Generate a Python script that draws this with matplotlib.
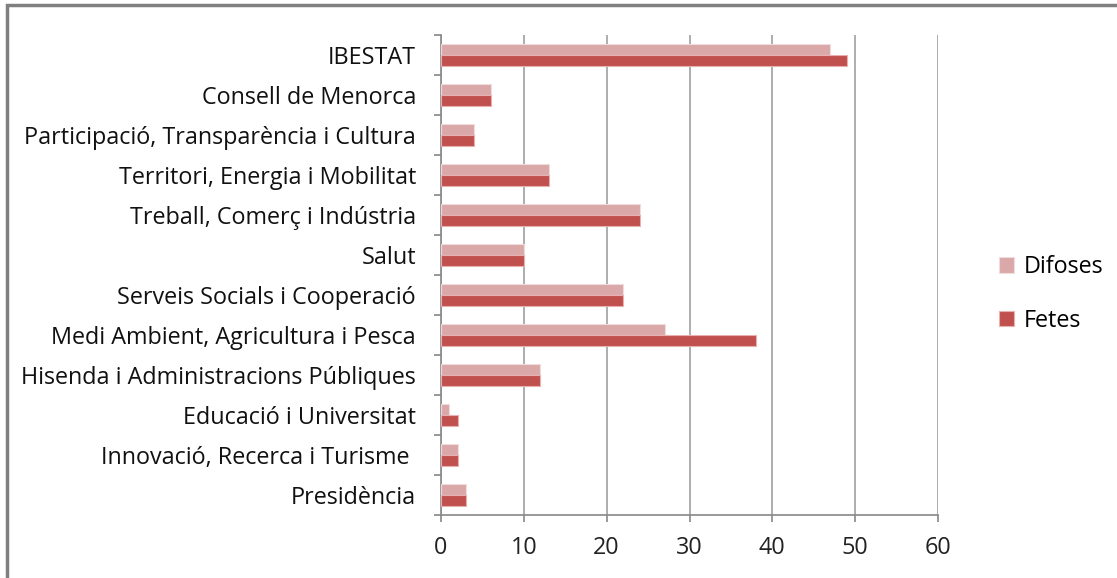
import matplotlib
matplotlib.use("Agg")
import matplotlib.pyplot as plt
from matplotlib.patches import Rectangle
import numpy as np

categories = ["IBESTAT", "Consell de Menorca", "Participació, Transparència i Cultura",
              "Territori, Energia i Mobilitat", "Treball, Comerç i Indústria", "Salut",
              "Serveis Socials i Cooperació", "Medi Ambient, Agricultura i Pesca",
              "Hisenda i Administracions Públiques", "Educació i Universitat",
              "Innovació, Recerca i Turisme ", "Presidència"]
difoses = [47, 6, 4, 13, 24, 10, 22, 27, 12, 1, 2, 3]
fetes = [49, 6, 4, 13, 24, 10, 22, 38, 12, 2, 2, 3]
xticks = [0, 10, 20, 30, 40, 50, 60]

plt.rcParams['font.family'] = ['Open Sans', 'DejaVu Sans']
FS = 16.8

fig = plt.figure(figsize=(11.17, 5.78), dpi=100)
ax = fig.add_axes([441/1117, 1-515/578, 497/1117, 480/578])

y = np.arange(len(categories))
h = 0.275
ax.barh(y - h/2, difoses, height=h, color='#DAA8A8', edgecolor='#F0DCDC', linewidth=0.8, label='Difoses', zorder=3)
ax.barh(y + h/2, fetes, height=h, color='#C0504D', edgecolor='#E8B0B0', linewidth=0.8, label='Fetes', zorder=3)

ax.set_xlim(0, 60)
ax.set_ylim(len(categories) - 0.5, -0.5)
ax.set_xticks(xticks)
ax.set_xticklabels([str(t) for t in xticks], fontsize=FS, color='#222222')
ax.set_yticks(y)
ax.set_yticklabels(categories, fontsize=FS, color='#111111')
ax.tick_params(axis='y', which='major', length=0, pad=18)
ax.set_yticks(np.arange(-0.5, len(categories)), minor=True)
ax.tick_params(axis='y', which='minor', length=5, color='#888888', width=1.2)
ax.tick_params(axis='x', length=5, color='#888888', width=1.2, pad=10)
ax.xaxis.grid(True, color='#A0A0A0', linewidth=1.2, zorder=0)
for s in ['top', 'right']:
    ax.spines[s].set_visible(False)
for s in ['left', 'bottom']:
    ax.spines[s].set_color('#888888')
    ax.spines[s].set_linewidth(1.2)

leg = fig.legend(loc='center left', bbox_to_anchor=(978/1117, 1-294/578), frameon=False,
                 fontsize=FS, handlelength=0.65, handleheight=0.65, labelspacing=1.25,
                 handletextpad=0.4)

fig.patches.append(Rectangle((7/1117, -0.02), 1.1, 1 - 5/578 + 0.02, transform=fig.transFigure,
                             fill=False, edgecolor='#808080', linewidth=2.5))

fig.savefig("out.png", dpi=100)
